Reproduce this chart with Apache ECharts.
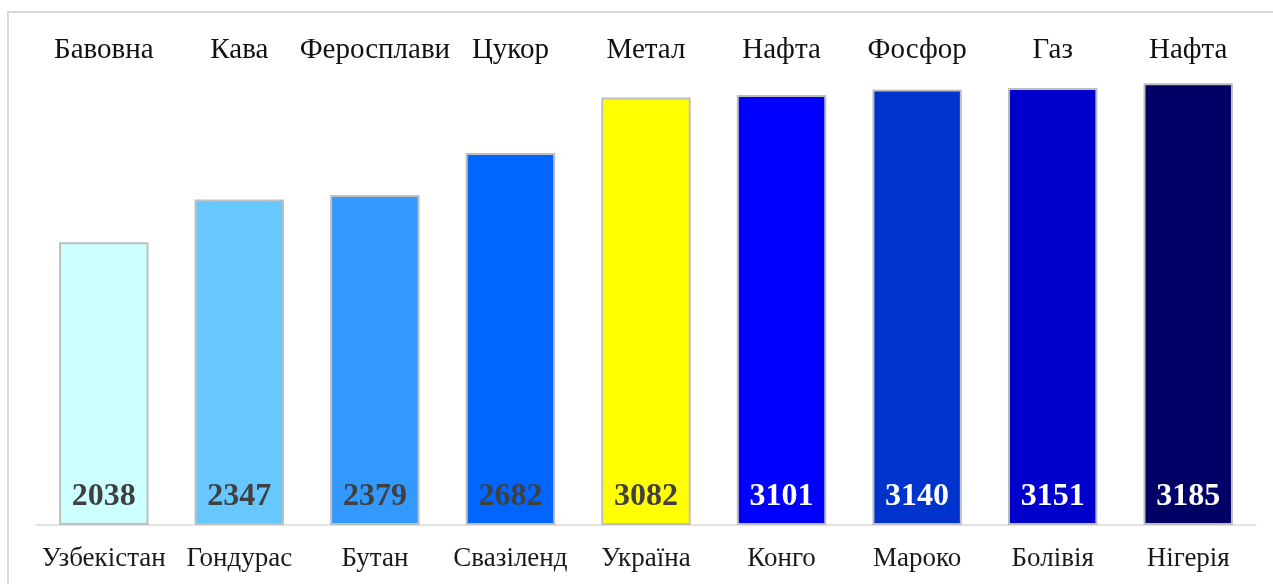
<!DOCTYPE html>
<html><head><meta charset="utf-8">
<script src="https://cdn.jsdelivr.net/npm/echarts@6/dist/echarts.min.js"></script>
<style>html,body{margin:0;padding:0;background:#fff}#c{width:1273px;height:584px;position:relative}
#frame{position:absolute;left:7px;top:11px;width:1280px;height:600px;border:2px solid #d9d9d9;box-sizing:border-box;pointer-events:none}</style>
</head><body><div id="c"></div><div id="frame"></div>
<script>
const countries = ['Узбекістан','Гондурас','Бутан','Свазіленд','Україна','Конго','Мароко','Болівія','Нігерія'];
const products = ['Бавовна','Кава','Феросплави','Цукор','Метал','Нафта','Фосфор','Газ','Нафта'];
const values = [2038,2347,2379,2682,3082,3101,3140,3151,3185];
const colors = ['#ccffff','#66c8ff','#3399ff','#0066ff','#ffff00','#0000ff','#0033cc','#0000cc','#000066'];
const labelColors = ['#404040','#404040','#404040','#404040','#404040','#ffffff','#ffffff','#ffffff','#ffffff'];

const chart = echarts.init(document.getElementById('c'));
const serif = '"Liberation Serif","DejaVu Serif",serif';
chart.setOption({
  animation:false,
  grid:{left:36,right:17,top:84,bottom:59},
  xAxis:[{
    type:'category', data:countries,
    axisLine:{lineStyle:{color:'#d9d9d9',width:1.5}},
    axisTick:{show:false},
    axisLabel:{color:'#1a1a1a',fontFamily:serif,fontSize:27,margin:20,interval:0}
  },{
    type:'category', data:products, position:'top',
    axisLine:{show:false}, axisTick:{show:false},
    axisLabel:{color:'#111',fontFamily:serif,fontSize:29,margin:19,interval:0}
  }],
  yAxis:{type:'value',min:0,max:3180,show:false,splitLine:{show:false}},
  series:[{
    type:'bar', barCategoryGap:'34%',
    data: values.map((v,i)=>({value:v,itemStyle:{color:colors[i]},label:{color:labelColors[i]}})),
    itemStyle:{borderColor:'#bfbfbf',borderWidth:2},
    label:{show:true,position:'insideBottom',distance:12,fontFamily:serif,fontWeight:'bold',fontSize:32}
  }]
});
</script></body></html>
